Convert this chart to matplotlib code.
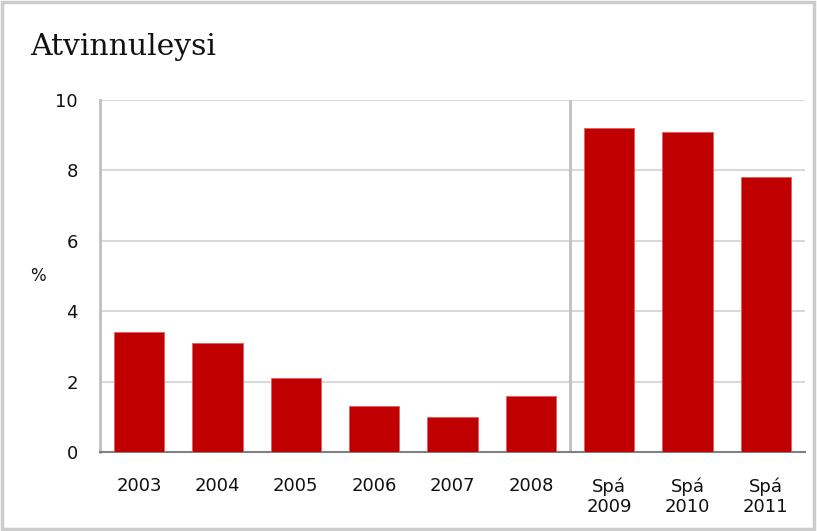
import matplotlib
matplotlib.use("Agg")
import matplotlib.pyplot as plt
from matplotlib.patches import Rectangle

categories = ["2003", "2004", "2005", "2006", "2007", "2008", "Spá\n2009", "Spá\n2010", "Spá\n2011"]
values = [3.4, 3.1, 2.1, 1.3, 1.0, 1.6, 9.2, 9.1, 7.8]
yticks = [0, 2, 4, 6, 8, 10]
title = "Atvinnuleysi"
ylabel = "%"

fig = plt.figure(figsize=(8.17, 5.31), dpi=100)
ax = fig.add_axes([100/817, 79/531, 705/817, 352/531])

x = list(range(len(categories)))
ax.bar(x, values, width=0.64, color="#C00000", edgecolor="#E06060", linewidth=0.6, zorder=3)

ax.set_xlim(-0.5, len(categories) - 0.5)
ax.set_ylim(0, 10)
ax.set_yticks(yticks)
ax.set_yticklabels([str(t) for t in yticks])
ax.set_xticks(x)
ax.set_xticklabels(categories, linespacing=1.2)
ax.yaxis.grid(True, color="#D9D9D9", linewidth=1.5, zorder=0)
ax.set_axisbelow(True)
ax.tick_params(axis="both", length=0, labelsize=13, colors="#111111")
ax.tick_params(axis="y", pad=16)
ax.tick_params(axis="x", pad=18)
for lbl in ax.get_xticklabels():
    lbl.set_verticalalignment("top")

for s in ["top", "right"]:
    ax.spines[s].set_visible(False)
ax.spines["left"].set_color("#BFBFBF")
ax.spines["left"].set_linewidth(2)
ax.spines["bottom"].set_color("#808080")
ax.spines["bottom"].set_linewidth(1.5)

ax.axvline(5.5, color="#C0C0C0", linewidth=2, zorder=2)

fig.text(30/817, 1 - 47/531, title, fontsize=21.5, family="DejaVu Serif", va="center", ha="left", color="#111111")
fig.text(38/817, 1 - 276/531, ylabel, fontsize=12, va="center", ha="center", color="#111111")

fig.patches.append(Rectangle((0.002, 0.003), 0.994, 0.994, transform=fig.transFigure,
                             fill=False, edgecolor="#CCCCCC", linewidth=2.5))

fig.savefig("out.png", dpi=100)
